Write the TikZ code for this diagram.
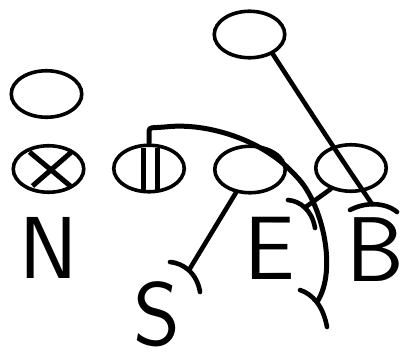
\documentclass[tikz,border=0pt]{standalone}
\usepackage{fontspec}
\usetikzlibrary{shapes.geometric}

\begin{document}
\begin{tikzpicture}[x=1pt, y=-1pt,
    player/.style={draw, ellipse, line width=3.6pt, minimum width=70.5pt,
                   minimum height=46.5pt, inner sep=0pt},
    letter/.style={inner sep=0pt, font=\sffamily\fontsize{#1}{#1}\selectfont},
    letter/.default=88,
    route/.style={line width=4.6pt, line cap=round},
    block/.style={line width=4.6pt, line cap=round},
    sign/.style={line width=5pt}
  ]
  \useasboundingbox (0,0) rectangle (403,356);

  % players
  \node[player] (back) at (249.5,34.5) {};
  \node[player] (wing) at (46.5,94) {};
  \node[player] (cross) at (48.5,169) {};
  \node[player] (bars) at (149,168.5) {};
  \node[player] (mid) at (250,169.5) {};
  \node[player] (right) at (351,168) {};

  \draw[sign] ([shift={(-19,-17)}]cross.center) -- ([shift={(23,18)}]cross.center);
  \draw[sign] ([shift={(23,-17)}]cross.center) -- ([shift={(-16,17)}]cross.center);
  \draw[sign] ([shift={(-6,-21)}]bars.center) -- ([shift={(-6,21)}]bars.center);
  \draw[sign] ([shift={(8,-21)}]bars.center) -- ([shift={(8,21)}]bars.center);

  % defenders
  \node[letter] (nN) at (49,248) {N};
  \node[letter=90] (nS) at (157,314) {S};
  \node[letter=90] (nE) at (270,248.5) {E};
  \node[letter=92] (nB) at (375,250) {B};

  \coordinate (bEnd) at (372,204);
  \coordinate (sEnd) at (189,270);
  \coordinate (eEnd) at (305,207.5);
  \coordinate (iiEnd) at (317,302);

  % routes
  \draw[route] (back.-40) .. controls (300,96) and (335,150) .. (bEnd);
  \draw[route] (mid) -- (sEnd);
  \draw[route] (right.-134) -- (eEnd);
  \draw[route, line width=5pt, rounded corners=3pt] (bars.north) -- (149,128) -- (165,127)
    .. controls (205,123) and (260,138) .. (295,175)
    .. controls (322,203) and (338,270) .. (iiEnd);

  % blocks
  \draw[block] (350,210) .. controls (365,202) and (385,202) .. (397,212);
  \draw[block] (170,262) .. controls (183,263) and (197,273) .. (200,292);
  \draw[block] (288,200) .. controls (300,201) and (312,210) .. (315,228);
  \draw[block] (300,290) .. controls (312,294) and (323,305) .. (327,327);

\end{tikzpicture}
\end{document}
